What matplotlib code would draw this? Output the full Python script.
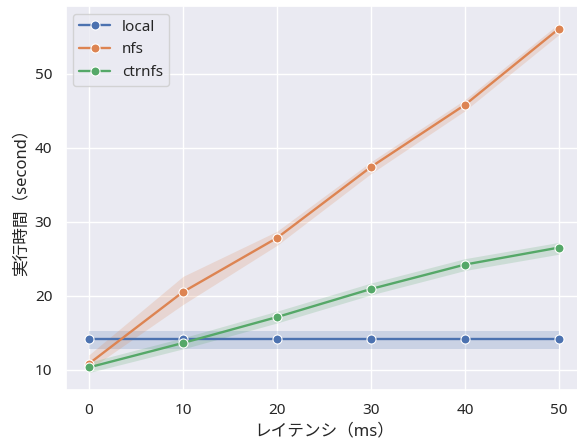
import matplotlib
matplotlib.use('Agg')
import matplotlib.pyplot as plt
import seaborn as sns

# latency (ms)
latency = [0, 10, 20, 30, 40, 50]

# mean execution time and confidence band per setup
local_mean = [14.2, 14.2, 14.2, 14.2, 14.2, 14.2]
local_lo = [12.8, 12.8, 12.8, 12.8, 12.8, 12.8]
local_hi = [15.2, 15.2, 15.2, 15.2, 15.2, 15.2]

nfs_mean = [10.8, 20.5, 27.8, 37.4, 45.8, 56.1]
nfs_lo = [10.0, 18.8, 26.8, 36.5, 45.0, 55.3]
nfs_hi = [12.0, 22.6, 28.7, 38.1, 46.5, 56.8]

ctrnfs_mean = [10.3, 13.6, 17.1, 20.9, 24.2, 26.5]
ctrnfs_lo = [9.6, 12.8, 16.3, 20.1, 23.4, 25.6]
ctrnfs_hi = [11.0, 14.3, 17.9, 21.7, 25.0, 27.2]

sns.set_theme(style='darkgrid')
plt.rcParams['font.family'] = ['Noto Sans', 'Noto Sans CJK JP', 'DejaVu Sans']

colors = sns.color_palette('deep')

fig = plt.figure(figsize=(5.77, 4.45), dpi=100)
ax = fig.add_axes([65.5 / 577, 55 / 445, 517 / 577, 384 / 445])

series = [
    ('local', local_mean, local_lo, local_hi, colors[0]),
    ('nfs', nfs_mean, nfs_lo, nfs_hi, colors[1]),
    ('ctrnfs', ctrnfs_mean, ctrnfs_lo, ctrnfs_hi, colors[2]),
]
for name, mean, lo, hi, c in series:
    ax.fill_between(latency, lo, hi, color=c, alpha=0.2, linewidth=0)
    ax.plot(latency, mean, marker='o', color=c, label=name, lw=1.7,
            markersize=6.5, markeredgecolor='white', markeredgewidth=0.8)

ax.set_xticks(latency)
ax.set_xlabel('レイテンシ（ms）', fontsize=12)
ax.set_ylabel('実行時間（second）', fontsize=12)
ax.tick_params(labelsize=11)
ax.legend(loc='upper left', fontsize=11)

fig.savefig('out.png', dpi=100)
